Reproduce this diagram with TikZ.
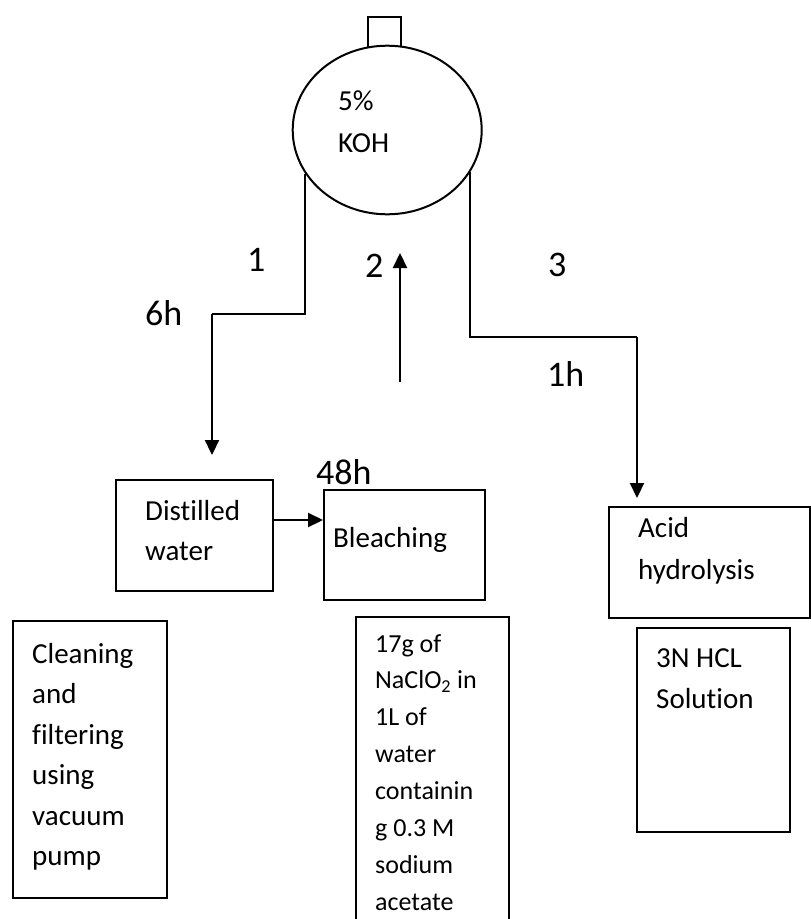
\documentclass[tikz,border=0pt]{standalone}
\usepackage{fontspec}
\setmainfont{Carlito}[Ligatures=NoCommon]
\usetikzlibrary{arrows.meta,shapes.geometric}
\tikzset{
  box/.style={draw, line width=2pt, rectangle, inner sep=0pt},
  txt/.style={anchor=north west, inner sep=0pt, align=left, font=\fontsize{29pt}{40.5pt}\selectfont},
  small/.style={anchor=north west, inner sep=0pt, align=left, font=\fontsize{26pt}{36.9pt}\selectfont},
  big/.style={anchor=base west, inner sep=0pt, font=\fontsize{36pt}{43pt}\selectfont},
  pipe/.style={line width=2.2pt},
  flow/.style={line width=2.2pt, -{Triangle[length=15pt,width=14pt]}}
}
\begin{document}
\begin{tikzpicture}[x=1pt,y=-1pt]
\useasboundingbox (0,0) rectangle (811,919);
\fill[white] (0,0) rectangle (811,919);
\clip (0,0) rectangle (811,919);

% vessel
\node[draw, line width=2pt, ellipse, minimum width=189pt, minimum height=168.6pt, inner sep=0pt] (tank) at (387.2,130) {};
\draw[line width=1.8pt] (368,47) |- (401,17) -- (401,47);
\node[txt, font=\fontsize{29pt}{42pt}\selectfont] (koh) at (338,80.6) {\strut 5\%\\KOH};

% boxes
\node[box, minimum width=157pt, minimum height=111pt] (dist) at (194.5,535.5) {};
\node[box, minimum width=161pt, minimum height=110pt] (bleach) at (404.5,545) {};
\node[box, minimum width=201pt, minimum height=111pt] (acid) at (709.5,562.5) {};
\node[box, minimum width=153pt, minimum height=204pt] (hcl) at (713.5,730) {};
\node[box, minimum width=154pt, minimum height=277pt] (clean) at (90,759.5) {};
\node[box, minimum width=153pt, minimum height=323pt] (nacl) at (432.5,778.5) {};

% box texts
\node[txt, font=\fontsize{29pt}{40pt}\selectfont] (distT) at (145,492) {\strut Distilled\\water};
\node[anchor=base west, inner sep=0pt, font=\fontsize{29pt}{40pt}\selectfont] (bleachT) at (333,547) {Bleaching};
\node[txt, font=\fontsize{29pt}{42pt}\selectfont] (acidT) at (638,507.6) {\strut Acid\\hydrolysis};
\node[txt, font=\fontsize{29pt}{41pt}\selectfont] (hclT) at (656,638.3) {\strut 3N HCL\\Solution};
\node[txt] (cleanT) at (32,634.7) {\strut Cleaning\\and\\filtering\\using\\vacuum\\pump};
\node[small] (naclT) at (375,626) {\strut 17g of\\NaClO\textsubscript{2} in\\1L of\\water\\containin\\g 0.3 M\\sodium\\acetate};

% labels
\node[big] (l1) at (247,271) {1};
\node[big] (l6h) at (145,325) {6h};
\node[big] (l2) at (365,277) {2};
\node[big] (l3) at (548,276) {3};
\node[big] (l1h) at (547,386) {1h};
\node[big] (l48h) at (316,484) {48h};

% connectors
\coordinate (b1) at (212,314);
\coordinate (e1) at (212,455);
\coordinate (b3) at (637,337);
\coordinate (e3) at (637,498);
\coordinate (s2) at (400,382);
\coordinate (e2) at (400,253);
\draw[pipe] (tank.208) |- (b1);
\draw[flow] (b1) -- (e1);
\draw[pipe] (tank.333) |- (b3);
\draw[flow] (b3) -- (e3);
\draw[flow] (s2) -- (e2);
\draw[flow] ([yshift=15.5pt]dist.east) -- ([yshift=15.5pt]dist.east -| bleach.west);
\end{tikzpicture}
\end{document}
